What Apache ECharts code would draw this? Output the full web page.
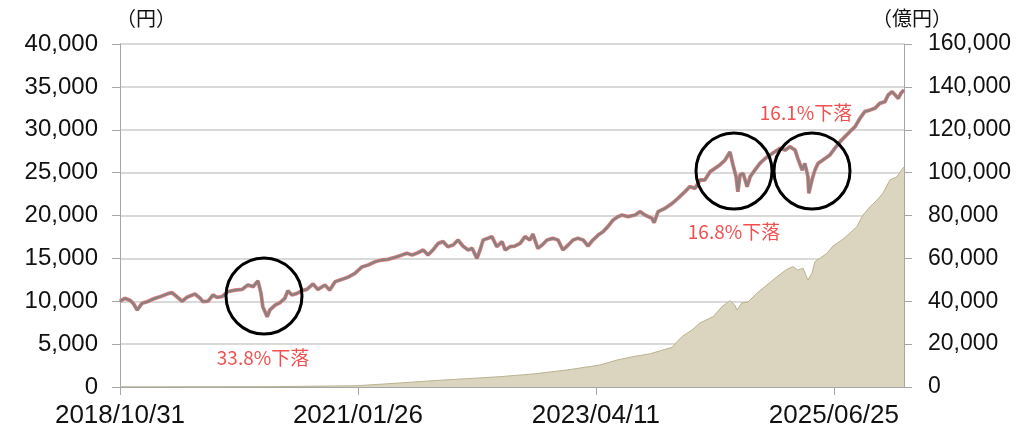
<!DOCTYPE html>
<html>
<head>
<meta charset="utf-8">
<script src="https://cdn.jsdelivr.net/npm/echarts@6/dist/echarts.min.js"></script>
<style>html,body{margin:0;padding:0;background:#fff}#c{width:1024px;height:439px}</style>
</head>
<body>
<div id="c"></div>
<script>
// x: business-day index since 2018/10/31 ; labels every 540 days
const xTickLabels = ["2018/10/31", "2021/01/26", "2023/04/11", "2025/06/25"];
const xTickStep = 540;
const xMax = 1779;

// 基準価額（円）
const priceDay = [0,11,23,30,39,50,64,79,91,107,118,129,141,152,170,182,188,200,211,220,231,245,261,277,290,302,313,320,324,334,340,352,363,374,381,390,402,413,424,438,449,465,476,488,504,517,533,549,563,579,594,608,624,640,651,663,676,688,699,710,722,733,744,756,767,778,790,799,810,817,824,835,844,855,867,874,885,896,908,919,930,937,948,958,969,982,994,1005,1017,1028,1039,1051,1062,1073,1085,1096,1107,1119,1130,1139,1153,1169,1180,1191,1207,1212,1221,1237,1253,1266,1282,1293,1305,1316,1327,1339,1350,1361,1373,1384,1391,1398,1402,1407,1414,1423,1430,1441,1452,1464,1475,1486,1498,1509,1520,1532,1538,1548,1554,1561,1563,1570,1577,1584,1595,1611,1622,1634,1645,1656,1668,1679,1690,1702,1713,1724,1736,1743,1752,1759,1766,1772,1779];
const priceVal = [10000,10340,10100,9760,8980,9760,9990,10340,10530,10850,11000,10530,10000,10460,10850,10340,9950,10020,10730,10460,10530,11120,11300,11380,11900,11700,12380,10920,9370,8200,8980,9560,9830,10340,11230,10730,10920,11230,11380,12010,11380,11890,11300,12280,12560,12790,13260,14000,14230,14610,14810,14890,15120,15390,15590,15390,15660,15980,15390,15980,16750,16950,16360,16560,17140,16440,15980,16170,15000,15980,17140,17340,17530,16360,16950,15980,16360,16440,16750,17530,17140,17840,16170,16560,17140,17340,17140,15980,16560,17140,17340,17140,16440,17140,17720,18110,18700,19480,19860,20060,19860,20060,20450,20060,19670,19160,20450,20840,21420,22000,22780,23360,23170,24140,24140,25110,25500,25890,26470,27400,25890,24530,22780,24720,24920,23360,24530,25310,26080,26660,27060,27440,27830,27630,28020,27630,26660,25310,26080,24530,22600,24140,25310,26080,26470,27060,27830,28610,29190,29770,30360,31330,32110,32300,32500,33080,33280,34050,34440,34050,33660,34250,34640];

// 純資産総額（億円）
const assetDay = [0,300,408,538,635,710,787,862,937,1014,1089,1128,1164,1203,1232,1253,1264,1275,1298,1316,1346,1366,1384,1395,1400,1411,1425,1445,1468,1491,1513,1527,1538,1550,1561,1570,1577,1588,1604,1618,1638,1656,1672,1686,1702,1718,1731,1747,1763,1779];
const assetVal = [0,80,300,610,1870,2950,3890,4820,6060,7930,10260,12590,14140,15500,17260,18500,21130,23480,26590,29900,32810,37480,40280,38250,35920,39200,39670,43700,47580,51460,54900,56120,54560,55370,49910,53020,58450,60010,62340,65770,68570,71690,74800,80230,84120,87230,90350,96560,98100,102760];

const notes = [
  {text: "33.8%下落", x: 263, y: 358},
  {text: "16.8%下落", x: 734, y: 232},
  {text: "16.1%下落", x: 806, y: 113}
];
const rings = [{x: 264, y: 296}, {x: 734, y: 171}, {x: 812, y: 171}];

const pricePts = priceDay.map((d, i) => [d, priceVal[i]]);
const assetPts = assetDay.map((d, i) => [d, assetVal[i]]);

const fmt = v => v.toLocaleString('en-US');
const numFont = "'Liberation Sans', Arial, sans-serif";
const jpFont = "'Noto Sans CJK JP', sans-serif";

const chart = echarts.init(document.getElementById('c'), null, {renderer: 'canvas'});
chart.setOption({
  animation: false,
  backgroundColor: '#fff',
  grid: {left: 120, right: 120, top: 44, bottom: 52, containLabel: false},
  xAxis: {
    type: 'value', min: 0, max: xMax, interval: xTickStep,
    axisLine: {show: true, lineStyle: {color: '#a6a6a6', width: 1}},
    axisTick: {show: true, length: 8, lineStyle: {color: '#a6a6a6'}},
    splitLine: {show: false},
    axisLabel: {
      margin: 16, color: '#111', fontSize: 26, fontFamily: numFont,
      showMaxLabel: false,
      formatter: v => (v % xTickStep === 0 ? (xTickLabels[v / xTickStep] || '') : '')
    }
  },
  yAxis: [
    {
      type: 'value', min: 0, max: 40000, interval: 5000, position: 'left',
      axisLine: {show: true, lineStyle: {color: '#a6a6a6', width: 1}},
      axisTick: {show: true, length: 8, lineStyle: {color: '#a6a6a6'}},
      splitLine: {show: true, lineStyle: {color: '#cdcdcd', width: 1.5}},
      axisLabel: {margin: 22, color: '#111', fontSize: 24, fontFamily: numFont, formatter: fmt}
    },
    {
      type: 'value', min: 0, max: 160000, interval: 20000, position: 'right',
      axisLine: {show: true, lineStyle: {color: '#a6a6a6', width: 1}},
      axisTick: {show: true, length: 8, lineStyle: {color: '#a6a6a6'}},
      splitLine: {show: false},
      axisLabel: {margin: 24, color: '#111', fontSize: 23, fontFamily: numFont, formatter: fmt}
    }
  ],
  series: [
    {
      name: '純資産総額', type: 'line', yAxisIndex: 1, data: assetPts,
      symbol: 'none', z: 1,
      lineStyle: {color: '#b9b290', width: 1},
      areaStyle: {color: '#dbd5bf', opacity: 1}
    },
    {
      name: '基準価額_edge', type: 'line', yAxisIndex: 0, data: pricePts,
      symbol: 'none', z: 3,
      lineStyle: {color: '#e47b7b', width: 3.8}
    },
    {
      name: '基準価額', type: 'line', yAxisIndex: 0, data: pricePts,
      symbol: 'none', z: 4,
      lineStyle: {color: '#8a8080', width: 2.3}
    }
  ],
  graphic: [
    {type: 'text', left: 116, top: 8, style: {text: '（円）', fontSize: 20, fontFamily: jpFont, fill: '#111'}},
    {type: 'text', left: 872, top: 8, style: {text: '（億円）', fontSize: 20, fontFamily: jpFont, fill: '#111'}},
    ...notes.map(n => ({
      type: 'text', x: n.x, y: n.y, z: 10,
      style: {text: n.text, fontSize: 19, fontFamily: jpFont, fill: '#f24f4f', align: 'center', verticalAlign: 'middle'}
    })),
    ...rings.map(r => ({
      type: 'circle', shape: {cx: r.x, cy: r.y, r: 38}, z: 10,
      style: {fill: 'none', stroke: '#000', lineWidth: 3}
    }))
  ]
});
</script>
</body>
</html>
